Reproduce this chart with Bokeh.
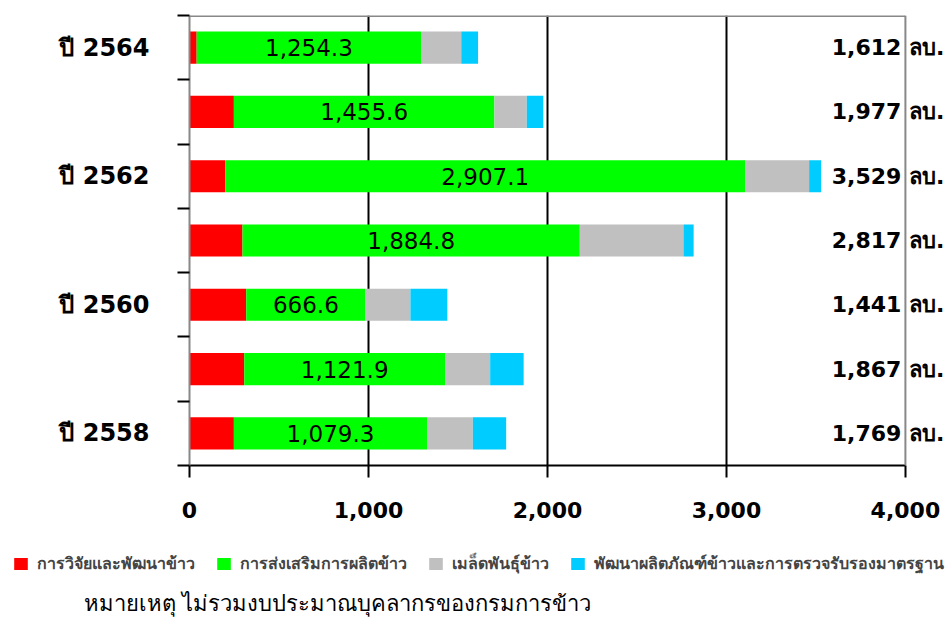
from bokeh.plotting import figure
from bokeh.layouts import column
from bokeh.models import (ColumnDataSource, FixedTicker, LabelSet, Legend, LegendItem,
                          Label, Span, NumeralTickFormatter)
from bokeh.core.properties import value
from bokeh.embed import file_html
from bokeh.resources import INLINE

# ---- data ----
years = ["2558", "2559", "2560", "2561", "2562", "2563", "2564"]
year_labels = ["ปี 2558", "", "ปี 2560", "", "ปี 2562", "", "ปี 2564"]
research = [248, 306, 317, 296, 199, 248, 40]
promotion = [1079.3, 1121.9, 666.6, 1884.8, 2907.1, 1455.6, 1254.3]
seeds = [256, 252, 251, 579, 356, 181, 224]
products = [186, 187, 206, 57, 67, 92, 94]
totals = [1769, 1867, 1441, 2817, 3529, 1977, 1612]
series_names = ["การวิจัยและพัฒนาข้าว", "การส่งเสริมการผลิตข้าว", "เมล็ดพันธุ์ข้าว",
                "พัฒนาผลิตภัณฑ์ข้าวและการตรวจรับรองมาตรฐาน"]
colors = ["#FF0000", "#00FF00", "#C0C0C0", "#00CCFF"]
x_ticks = [0, 1000, 2000, 3000, 4000]
footnote = "หมายเหตุ  ไม่รวมงบประมาณบุคลากรของกรมการข้าว"

FONT = "DejaVu Sans"
BORDER = "#888888"

idx = list(range(len(years)))
keys = ["research", "promotion", "seeds", "products"]
x_max = x_ticks[-1]
source = ColumnDataSource(dict(
    y=idx,
    research=research, promotion=promotion, seeds=seeds, products=products,
    mid=[r + g / 2 for r, g in zip(research, promotion)],
    promo_txt=[f"{v:,.1f}" for v in promotion],
    total=[x_max] * len(totals),
    total_txt=[f"{t:,} ลบ." for t in totals],
))

# frame extends a little past 4,000 so the totals' "ลบ." can sit outside the box
p = figure(width=950, height=530, x_range=(x_ticks[0], x_max * 1.056),
           y_range=(-0.5, len(years) - 0.5),
           output_backend="svg", toolbar_location=None,
           min_border_left=189, min_border_right=5, min_border_top=15,
           min_border_bottom=65)
p.frame_align = False

renderers = p.hbar_stack(keys, y="y", height=0.5, color=colors, source=source,
                         line_color=None)

# axes
p.xaxis.bounds = (x_ticks[0], x_max)
p.xaxis.ticker = FixedTicker(ticks=x_ticks)
p.xaxis.formatter = NumeralTickFormatter(format="0,0")
p.xaxis.axis_line_color = "black"
p.xaxis.axis_line_width = 2
p.xaxis.major_tick_line_color = "black"
p.xaxis.major_tick_line_width = 2
p.xaxis.major_tick_out = 12
p.xaxis.major_tick_in = 0
p.xaxis.minor_tick_line_color = None
p.xaxis.major_label_text_font = FONT
p.xaxis.major_label_text_font_size = "22px"
p.xaxis.major_label_text_font_style = "bold"
p.xaxis.major_label_text_color = "black"
p.xaxis.major_label_standoff = 24

p.yaxis.ticker = FixedTicker(ticks=idx, minor_ticks=[i - 0.5 for i in idx] + [idx[-1] + 0.5])
p.yaxis.major_label_overrides = {i: lab for i, lab in zip(idx, year_labels)}
p.yaxis.axis_line_color = BORDER
p.yaxis.axis_line_width = 2
p.yaxis.major_tick_line_color = None
p.yaxis.major_tick_out = 0
p.yaxis.major_tick_in = 0
p.yaxis.minor_tick_line_color = "black"
p.yaxis.minor_tick_line_width = 2
p.yaxis.minor_tick_out = 12
p.yaxis.minor_tick_in = 0
p.yaxis.major_label_text_font = FONT
p.yaxis.major_label_text_font_size = "24px"
p.yaxis.major_label_text_font_style = "bold"
p.yaxis.major_label_text_color = "black"
p.yaxis.major_label_standoff = 28

p.xgrid.ticker = FixedTicker(ticks=x_ticks[1:-1])
p.xgrid.grid_line_color = "black"
p.xgrid.grid_line_width = 2
p.ygrid.grid_line_color = None
p.outline_line_color = None

# plot-area box: right edge at 4,000 and top edge
p.add_layout(Span(location=x_max, dimension="height", line_color=BORDER, line_width=2))
p.segment(x0=[x_ticks[0]], x1=[x_max], y0=[len(years) - 0.5], y1=[len(years) - 0.5],
          line_color=BORDER, line_width=3)

# labels
p.add_layout(LabelSet(x="mid", y="y", text="promo_txt", source=source,
                      text_align="center", text_baseline="middle",
                      text_font=value(FONT), text_font_size="23px", text_color="black"))
p.add_layout(LabelSet(x="total", y="y", text="total_txt", source=source,
                      x_offset=39, text_align="right", text_baseline="middle",
                      text_font=value(FONT), text_font_size="22px", text_font_style="bold",
                      text_color="black"))

# ---- legend + footnote strip ----
# (x range kept left of zero, so the stacked bars used for the legend swatches stay hidden)
p2 = figure(width=950, height=94, x_range=(-2, -1), y_range=(-0.5, len(years) - 0.5),
            output_backend="svg", toolbar_location=None,
            min_border_left=0, min_border_right=0, min_border_top=0, min_border_bottom=0)
p2.frame_align = False
p2.axis.visible = False
p2.grid.visible = False
p2.outline_line_color = None
swatches = p2.hbar_stack(keys, y="y", height=0.5, color=colors, source=source,
                         line_color=None)

legend = Legend(items=[LegendItem(label=n, renderers=[r]) for n, r in zip(series_names, swatches)],
                orientation="horizontal", location=(12, 48),
                label_text_font_size="16px", label_text_font_style="bold",
                label_text_font=FONT, glyph_width=17, glyph_height=15,
                label_standoff=8, spacing=20, padding=0, margin=0,
                border_line_color=None, background_fill_alpha=0)
p2.add_layout(legend, "center")

p2.add_layout(Label(x=83, y=21, x_units="screen", y_units="screen", text=footnote,
                    text_baseline="middle", text_font=FONT, text_font_size="22px",
                    text_color="black"))

open("out.html", "w").write(file_html(column(p, p2, spacing=0), INLINE))
